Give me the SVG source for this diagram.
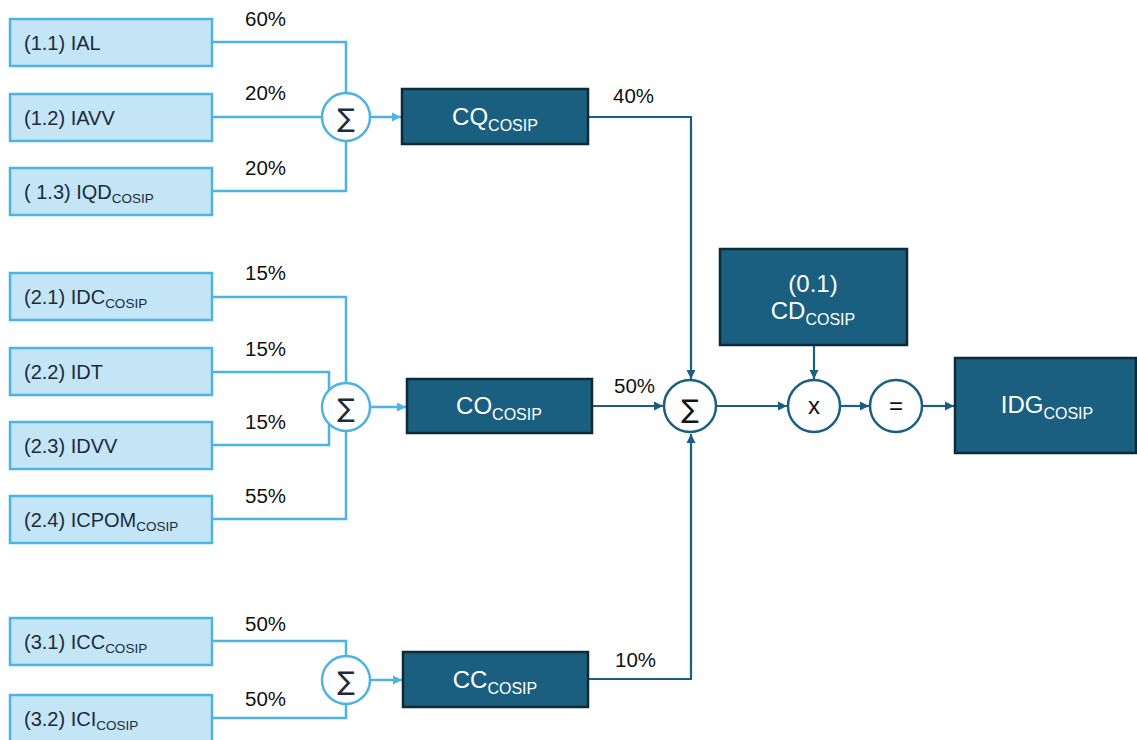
<svg xmlns="http://www.w3.org/2000/svg" width="1137" height="740" viewBox="0 0 1137 740">
<style>
.lb{fill:#c3e5f6;stroke:#4db3e3;stroke-width:2.5}
.lt{font-family:"Liberation Sans",Arial,sans-serif;font-size:20px;fill:#1b2b3c}
.sub{font-size:13.5px}
.db{fill:#1a5f80;stroke:#0d2a3a;stroke-width:2.5}
.dt{font-family:"Liberation Sans",Arial,sans-serif;font-size:24px;fill:#ffffff}
.dsub{font-size:16px}
.pc{font-family:"Liberation Sans",Arial,sans-serif;font-size:20.5px;fill:#111111}
.lc{fill:none;stroke:#4db3e3;stroke-width:2.5}
.dc{fill:none;stroke:#1a5f80;stroke-width:2.2}
.lcir{fill:#ffffff;stroke:#4db3e3;stroke-width:2.5}
.dcir{fill:#ffffff;stroke:#1a5f80;stroke-width:2.5}
.sym{font-family:"DejaVu Sans","Liberation Sans",sans-serif;font-size:26px;text-anchor:middle}
.op{font-family:"Liberation Sans",Arial,sans-serif;font-size:24px;text-anchor:middle;fill:#111111}
</style>
<defs>
<marker id="al" markerUnits="userSpaceOnUse" markerWidth="10" markerHeight="10" refX="9" refY="5" orient="auto">
<path d="M0,0.5 L9,5 L0,9.5 Z" fill="#4db3e3"/>
</marker>
<marker id="ad" markerUnits="userSpaceOnUse" markerWidth="10" markerHeight="10" refX="9" refY="5" orient="auto">
<path d="M0,0.5 L9,5 L0,9.5 Z" fill="#1a5f80"/>
</marker>
</defs>

<g id="connectors">
<path class="lc" d="M212,42 H346 V93"/>
<path class="lc" d="M212,117 H322"/>
<path class="lc" d="M212,191 H346 V141"/>
<path class="lc" d="M370,117 H401" marker-end="url(#al)"/>
<path class="lc" d="M212,297 H346 V383"/>
<path class="lc" d="M212,372 H329 V390"/>
<path class="lc" d="M212,445 H329 V424"/>
<path class="lc" d="M212,519 H346 V431"/>
<path class="lc" d="M370,407 H406" marker-end="url(#al)"/>
<path class="lc" d="M212,641 H346 V656"/>
<path class="lc" d="M212,718 H346 V704"/>
<path class="lc" d="M370,680 H402" marker-end="url(#al)"/>
<path class="dc" d="M588,117 H691 V379" marker-end="url(#ad)"/>
<path class="dc" d="M592,406 H663" marker-end="url(#ad)"/>
<path class="dc" d="M588,679 H691 V434" marker-end="url(#ad)"/>
<path class="dc" d="M716,406 H787" marker-end="url(#ad)"/>
<path class="dc" d="M814,345 V379" marker-end="url(#ad)"/>
<path class="dc" d="M840,406 H869" marker-end="url(#ad)"/>
<path class="dc" d="M923,406 H954" marker-end="url(#ad)"/>
<text class="pc" x="245" y="26">60%</text>
<text class="pc" x="245" y="100">20%</text>
<text class="pc" x="245" y="175">20%</text>
<text class="pc" x="245" y="280">15%</text>
<text class="pc" x="245" y="356">15%</text>
<text class="pc" x="245" y="429">15%</text>
<text class="pc" x="245" y="503">55%</text>
<text class="pc" x="245" y="631">50%</text>
<text class="pc" x="245" y="706">50%</text>
<text class="pc" x="613" y="103">40%</text>
<text class="pc" x="614" y="393">50%</text>
<text class="pc" x="615" y="667">10%</text>
</g>

<g id="n11"><rect class="lb" x="10" y="19" width="202" height="47"/><text class="lt" x="24" y="50">(1.1) IAL</text></g>
<g id="n12"><rect class="lb" x="10" y="94" width="202" height="47"/><text class="lt" x="24" y="125">(1.2) IAVV</text></g>
<g id="n13"><rect class="lb" x="10" y="168" width="202" height="47"/><text class="lt" x="24" y="199">( 1.3) IQD<tspan class="sub" dy="4">COSIP</tspan></text></g>
<g id="n21"><rect class="lb" x="10" y="273" width="202" height="47"/><text class="lt" x="24" y="304">(2.1) IDC<tspan class="sub" dy="4">COSIP</tspan></text></g>
<g id="n22"><rect class="lb" x="10" y="348" width="202" height="47"/><text class="lt" x="24" y="379">(2.2) IDT</text></g>
<g id="n23"><rect class="lb" x="10" y="422" width="202" height="47"/><text class="lt" x="24" y="453">(2.3) IDVV</text></g>
<g id="n24"><rect class="lb" x="10" y="496" width="202" height="47"/><text class="lt" x="24" y="527">(2.4) ICPOM<tspan class="sub" dy="4">COSIP</tspan></text></g>
<g id="n31"><rect class="lb" x="10" y="618" width="202" height="47"/><text class="lt" x="24" y="649">(3.1) ICC<tspan class="sub" dy="4">COSIP</tspan></text></g>
<g id="n32"><rect class="lb" x="10" y="695" width="202" height="47"/><text class="lt" x="24" y="726">(3.2) ICI<tspan class="sub" dy="4">COSIP</tspan></text></g>

<g id="s1"><circle class="lcir" cx="346" cy="117" r="24"/><text class="sym" x="346" y="127" fill="#1b2b3c">∑</text></g>
<g id="s2"><circle class="lcir" cx="346" cy="407" r="24"/><text class="sym" x="346" y="417" fill="#1b2b3c">∑</text></g>
<g id="s3"><circle class="lcir" cx="346" cy="680" r="24"/><text class="sym" x="346" y="690" fill="#1b2b3c">∑</text></g>

<g id="cq"><rect class="db" x="402" y="89" width="186" height="55"/><text class="dt" x="495" y="125" text-anchor="middle">CQ<tspan class="dsub" dy="6">COSIP</tspan></text></g>
<g id="co"><rect class="db" x="407" y="379" width="185" height="54"/><text class="dt" x="499" y="414" text-anchor="middle">CO<tspan class="dsub" dy="6">COSIP</tspan></text></g>
<g id="cc"><rect class="db" x="403" y="652" width="185" height="55"/><text class="dt" x="495" y="688" text-anchor="middle">CC<tspan class="dsub" dy="6">COSIP</tspan></text></g>
<g id="cd"><rect class="db" x="720" y="249" width="187" height="96"/><text class="dt" x="813" y="292" text-anchor="middle" font-size="21">(0.1)</text><text class="dt" x="813" y="319" text-anchor="middle">CD<tspan class="dsub" dy="6">COSIP</tspan></text></g>
<g id="idg"><rect class="db" x="955" y="358" width="181" height="95"/><text class="dt" x="1047" y="413" text-anchor="middle">IDG<tspan class="dsub" dy="6">COSIP</tspan></text></g>

<g id="sum"><circle class="dcir" cx="690" cy="406" r="26"/><text class="sym" x="690" y="418" fill="#111111" font-size="31">∑</text></g>
<g id="mul"><circle class="dcir" cx="814" cy="406" r="26"/><text class="op" x="814" y="414">x</text></g>
<g id="eq"><circle class="dcir" cx="896" cy="406" r="26"/><text class="op" x="896" y="414">=</text></g>
</svg>
